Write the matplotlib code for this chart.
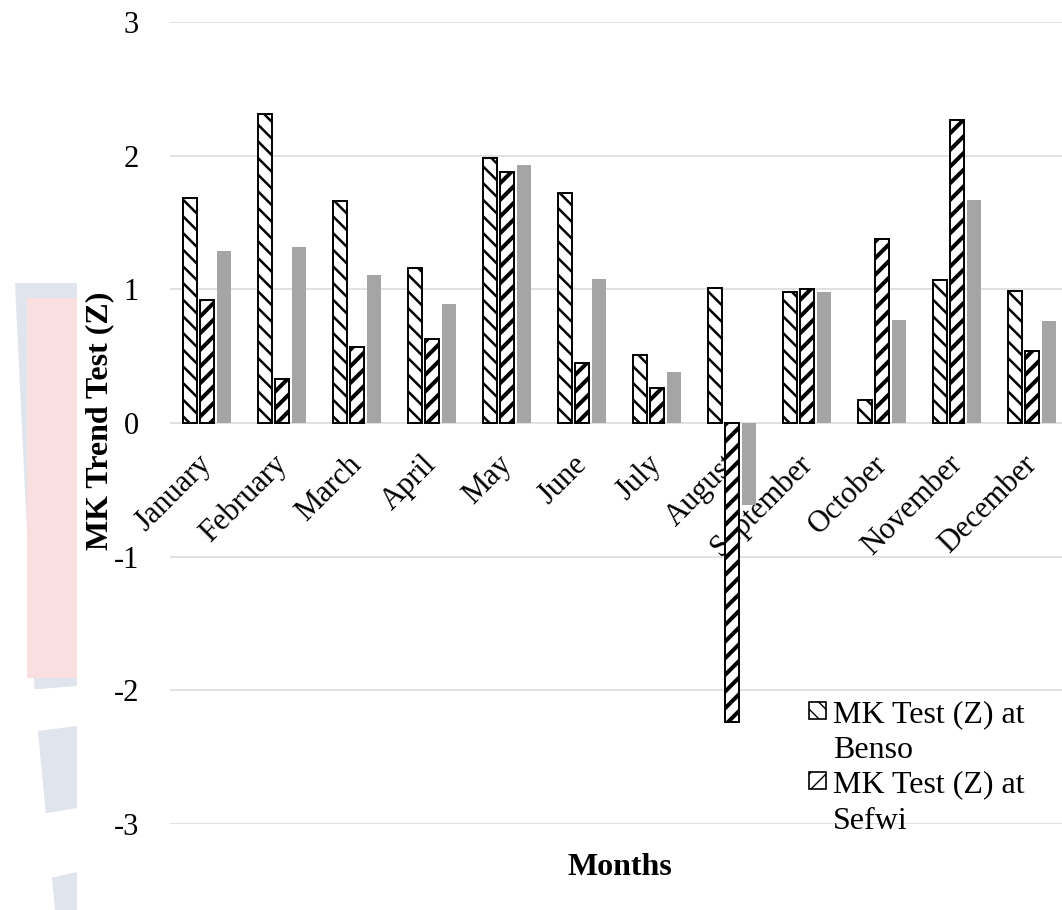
import numpy as np
import matplotlib
matplotlib.use("Agg")
import matplotlib.pyplot as plt
from matplotlib.patches import Rectangle, Polygon
from matplotlib.legend_handler import HandlerBase
from matplotlib.transforms import ScaledTranslation

plt.rcParams["font.family"] = ["Liberation Serif", "DejaVu Serif"]

months = ["January", "February", "March", "April", "May", "June", "July",
          "August", "September", "October", "November", "December"]
benso = [1.68, 2.31, 1.66, 1.16, 1.98, 1.72, 0.51, 1.01, 0.98, 0.17, 1.07, 0.99]
sefwi = [0.92, 0.33, 0.57, 0.63, 1.88, 0.45, 0.26, -2.24, 1.00, 1.38, 2.27, 0.54]
third = [1.29, 1.32, 1.11, 0.89, 1.93, 1.08, 0.38, -0.61, 0.98, 0.77, 1.67, 0.76]
yticks = [-3, -2, -1, 0, 1, 2, 3]

W, H = 1062, 910
FS = 22
FS_BIG = 23


def px(x, y):
    # pixel (from top-left) -> figure fraction
    return x / W, 1 - y / H


fig = plt.figure(figsize=(W / 100, H / 100), dpi=100)

# faint watermark at the left edge (scanned page background)
wm = [
    ([(15, 283), (77, 283), (77, 910), (55, 910), (35, 700)], "#e0e4ec"),
    ([(27, 298), (77, 298), (77, 678), (27, 678)], "#f9dfe0"),
    ([(27, 690), (77, 686), (77, 726), (30, 732)], "white"),
    ([(35, 815), (77, 808), (77, 872), (50, 878)], "white"),
]
for pts, col in wm:
    fig.add_artist(Polygon([px(*p) for p in pts], closed=True, transform=fig.transFigure,
                           facecolor=col, edgecolor="none", zorder=0))

ax = fig.add_axes([169.5 / W, 86 / H, 900 / W, 802 / H])
ax.set_facecolor("none")

x = np.arange(len(months))
step, bw = 0.222, 0.187

with plt.rc_context({"hatch.linewidth": 1.8}):
    b1 = ax.bar(x - step, benso, bw, facecolor="white", edgecolor="black",
                linewidth=1.4, hatch="\\\\", zorder=3)
with plt.rc_context({"hatch.linewidth": 2.9}):
    b2 = ax.bar(x, sefwi, bw, facecolor="white", edgecolor="black",
                linewidth=1.4, hatch="//", zorder=3)
b3 = ax.bar(x + step, third, bw, color="#a5a5a5", edgecolor="none", zorder=3)

ax.set_xlim(-0.5, len(months) - 0.5)
ax.set_ylim(-3, 3)
ax.set_yticks(yticks)
ax.set_yticklabels([str(v) for v in yticks], fontsize=FS)
ax.yaxis.grid(True, color="#d9d9d9", linewidth=1.1)
ax.set_axisbelow(True)
for s in ["top", "right", "left"]:
    ax.spines[s].set_visible(False)
ax.spines["bottom"].set_position(("data", 0))
ax.spines["bottom"].set_visible(False)
ax.tick_params(axis="y", length=0, pad=22)
ax.tick_params(axis="x", length=0, pad=12)
ax.set_xticks(x)
ax.set_xticklabels(months, fontsize=FS, rotation=45, ha="right", va="top",
                   rotation_mode="anchor")
shift = ScaledTranslation(-0.10, -0.10, fig.dpi_scale_trans)
for lab in ax.get_xticklabels():
    lab.set_transform(lab.get_transform() + shift)


class TopSquare(HandlerBase):
    def create_artists(self, legend, orig_handle, xdescent, ydescent, width, height,
                       fontsize, trans):
        s = 0.53 * fontsize
        y0 = 0.78 * fontsize
        r = Rectangle((-xdescent, y0), s, s, facecolor="white", edgecolor="black",
                      linewidth=1.2, hatch=orig_handle.get_hatch(), transform=trans)
        return [r]


leg = ax.legend(handles=[b1.patches[0], b2.patches[0]],
                labels=["MK Test (Z) at\nBenso", "MK Test (Z) at\nSefwi"],
                handler_map={Rectangle: TopSquare()},
                loc="upper left", bbox_to_anchor=px(809, 700), bbox_transform=fig.transFigure,
                frameon=False, fontsize=FS_BIG, borderpad=0, borderaxespad=0,
                handlelength=0.53, handleheight=0.55, handletextpad=0.22, labelspacing=0.15)
for t in leg.get_texts():
    t.set_linespacing(1.34)

fig.text(*px(100, 421), "MK Trend Test (Z)", rotation=90, ha="center", va="center",
         fontsize=FS_BIG, fontweight="bold")
fig.text(*px(619.5, 875), "Months", ha="center", va="baseline", fontsize=FS_BIG,
         fontweight="bold")

fig.savefig("out.png", dpi=100)
